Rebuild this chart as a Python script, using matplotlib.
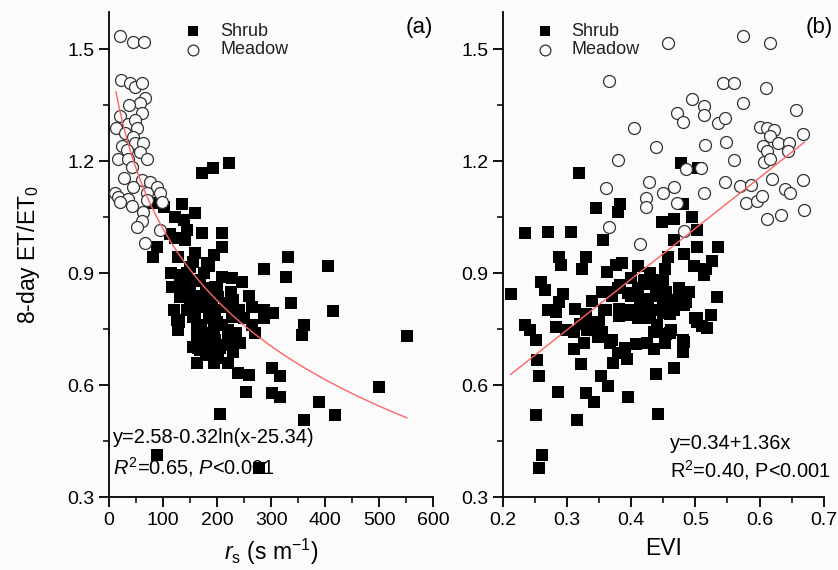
import numpy as np
import matplotlib
import matplotlib.pyplot as plt
from matplotlib.ticker import MultipleLocator

matplotlib.use('agg')

plt.rcParams['font.family'] = ['Liberation Sans', 'DejaVu Sans']
plt.rcParams['mathtext.fontset'] = 'custom'
plt.rcParams['mathtext.rm'] = 'Liberation Sans'
plt.rcParams['mathtext.it'] = 'Liberation Sans:italic'

### panel (a): surface resistance rs vs ET/ET0
meadow_rs = [20, 44, 65, 22, 39, 48, 61, 67, 57, 37, 20, 61, 35, 48, 13, 52, 30, 44, 24, 48,
             63, 33, 57, 17, 35, 70, 43, 28, 61, 76, 89, 11, 44, 17, 35, 70, 94, 20, 43, 70,
             98, 63, 61, 52, 94, 67]
meadow_et_a = [1.535, 1.52, 1.52, 1.417, 1.41, 1.40, 1.41, 1.37, 1.355, 1.35, 1.32, 1.33, 1.30,
               1.31, 1.29, 1.29, 1.275, 1.265, 1.24, 1.25, 1.25, 1.23, 1.225, 1.205, 1.205,
               1.205, 1.185, 1.155, 1.15, 1.145, 1.13, 1.115, 1.13, 1.105, 1.10, 1.115, 1.115,
               1.09, 1.08, 1.095, 1.09, 1.065, 1.04, 1.025, 1.015, 0.98]

shrub_rs = [172, 193, 222, 82, 101, 136, 159, 122, 138, 113, 144, 172, 209, 141, 122, 88, 209,
            82, 128, 159, 331, 406, 286, 181, 150, 328, 227, 246, 131, 116, 138, 169, 196, 131,
            162, 184, 230, 202, 336, 264, 286, 304, 415, 144, 169, 196, 218, 125, 156, 187, 227,
            286, 360, 128, 162, 206, 264, 270, 221, 357, 551, 162, 187, 156, 196, 218, 243, 169,
            187, 202, 221, 162, 239, 259, 301, 317, 500, 254, 301, 317, 389, 206, 360, 419, 88,
            278,
            140, 150, 160, 170, 180, 190, 150, 160, 175, 185, 200, 170, 180, 195, 210, 165, 175,
            190, 205, 220, 235, 145, 135, 120, 155, 175, 200, 215, 225, 130, 240, 180, 195, 230,
            250, 260, 210, 185, 195, 115]
shrub_et_a = [1.169, 1.183, 1.196, 1.087, 1.076, 1.085, 1.062, 1.051, 1.042, 1.006, 1.015, 1.008,
              1.008, 0.988, 0.993, 0.97, 0.97, 0.944, 0.944, 0.953, 0.942, 0.92, 0.911, 0.926,
              0.917, 0.890, 0.888, 0.875, 0.895, 0.863, 0.872, 0.881, 0.863, 0.837, 0.837, 0.846,
              0.828, 0.837, 0.820, 0.81, 0.80, 0.792, 0.799, 0.80, 0.81, 0.80, 0.81, 0.774, 0.783,
              0.779, 0.783, 0.779, 0.761, 0.747, 0.752, 0.761, 0.761, 0.740, 0.747, 0.734, 0.731,
              0.729, 0.738, 0.703, 0.721, 0.707, 0.712, 0.694, 0.689, 0.672, 0.658, 0.658, 0.633,
              0.626, 0.647, 0.624, 0.595, 0.582, 0.579, 0.569, 0.554, 0.522, 0.506, 0.52, 0.413,
              0.377,
              0.86, 0.85, 0.88, 0.84, 0.86, 0.83, 0.82, 0.79, 0.81, 0.78, 0.77, 0.76, 0.74, 0.75,
              0.76, 0.70, 0.72, 0.70, 0.70, 0.72, 0.74, 0.90, 0.84, 0.80, 0.93, 0.90, 0.86, 0.82,
              0.85, 0.77, 0.80, 0.68, 0.66, 0.69, 0.78, 0.84, 0.89, 0.92, 0.95, 0.90]

# log fit as drawn: y = a - b*ln(x - c)
fit_a = (2.684, 0.341, -32.0)
fit_a_range = (13, 551)

### panel (b): EVI vs ET/ET0
meadow_evi = [0.458, 0.574, 0.616, 0.366, 0.543, 0.560, 0.610, 0.494, 0.514, 0.472, 0.574, 0.657,
              0.481, 0.513, 0.536, 0.546, 0.404, 0.600, 0.612, 0.622, 0.616, 0.667, 0.438, 0.515,
              0.548, 0.605, 0.628, 0.646, 0.611, 0.645, 0.380, 0.560, 0.607, 0.617, 0.486, 0.509,
              0.361, 0.427, 0.466, 0.546, 0.570, 0.587, 0.619, 0.668, 0.450, 0.513, 0.640, 0.648,
              0.423, 0.423, 0.471, 0.579, 0.596, 0.604, 0.611, 0.634, 0.670, 0.366, 0.482, 0.414]
meadow_et_b = [1.518, 1.535, 1.518, 1.415, 1.41, 1.41, 1.395, 1.367, 1.349, 1.33, 1.355, 1.336,
               1.306, 1.324, 1.303, 1.316, 1.29, 1.292, 1.289, 1.283, 1.268, 1.274, 1.238, 1.243,
               1.252, 1.241, 1.248, 1.248, 1.227, 1.228, 1.203, 1.204, 1.197, 1.206, 1.18, 1.183,
               1.129, 1.143, 1.13, 1.143, 1.133, 1.136, 1.152, 1.149, 1.114, 1.115, 1.126, 1.115,
               1.102, 1.078, 1.087, 1.088, 1.093, 1.106, 1.045, 1.055, 1.069, 1.024, 1.013, 0.977]

shrub_evi = [0.318, 0.477, 0.504, 0.345, 0.383, 0.379, 0.480, 0.448, 0.467, 0.495, 0.502, 0.234,
             0.271, 0.307, 0.356, 0.466, 0.502, 0.535, 0.483, 0.458, 0.288, 0.290, 0.330, 0.324,
             0.362, 0.376, 0.386, 0.411, 0.452, 0.498, 0.516, 0.526, 0.212, 0.260, 0.266, 0.294,
             0.288, 0.339, 0.354, 0.362, 0.382, 0.400, 0.421, 0.436, 0.439, 0.454, 0.475, 0.490,
             0.395, 0.413, 0.426, 0.462, 0.485, 0.533, 0.513, 0.271, 0.283, 0.313, 0.358, 0.381,
             0.381, 0.400, 0.416, 0.434, 0.449, 0.467, 0.483, 0.503, 0.525, 0.502, 0.234, 0.242,
             0.252, 0.283, 0.298, 0.311, 0.321, 0.336, 0.344, 0.331, 0.354, 0.349, 0.367, 0.311,
             0.326, 0.408, 0.424, 0.436, 0.436, 0.454, 0.462, 0.452, 0.483, 0.480, 0.511, 0.518,
             0.254, 0.257, 0.322, 0.371, 0.393, 0.380, 0.353, 0.438, 0.466, 0.286, 0.329, 0.342,
             0.364, 0.395, 0.251, 0.316, 0.442, 0.261, 0.257,
             0.40, 0.41, 0.42, 0.43, 0.44, 0.42, 0.43, 0.41, 0.44, 0.45, 0.40, 0.42, 0.45, 0.39,
             0.46, 0.43, 0.44, 0.47, 0.48, 0.38, 0.37, 0.36, 0.35, 0.34, 0.33, 0.37, 0.39, 0.46,
             0.48, 0.50]
shrub_et_b = [1.169, 1.196, 1.183, 1.075, 1.086, 1.063, 1.085, 1.036, 1.045, 1.05, 1.015, 1.007,
              1.009, 1.009, 0.988, 0.99, 0.969, 0.970, 0.951, 0.944, 0.944, 0.921, 0.942, 0.910,
              0.904, 0.922, 0.928, 0.919, 0.910, 0.919, 0.910, 0.933, 0.844, 0.875, 0.855, 0.843,
              0.823, 0.826, 0.850, 0.850, 0.868, 0.886, 0.883, 0.883, 0.859, 0.850, 0.859, 0.850,
              0.846, 0.828, 0.832, 0.828, 0.823, 0.835, 0.895, 0.801, 0.796, 0.805, 0.801, 0.805,
              0.785, 0.787, 0.796, 0.801, 0.792, 0.801, 0.814, 0.781, 0.787, 0.770, 0.761, 0.747,
              0.721, 0.756, 0.747, 0.743, 0.765, 0.770, 0.756, 0.747, 0.743, 0.729, 0.712, 0.698,
              0.712, 0.709, 0.712, 0.743, 0.698, 0.738, 0.747, 0.712, 0.716, 0.689, 0.758, 0.752,
              0.667, 0.625, 0.656, 0.660, 0.669, 0.687, 0.625, 0.631, 0.647, 0.582, 0.578, 0.555,
              0.597, 0.569, 0.521, 0.506, 0.522, 0.412, 0.377,
              0.84, 0.86, 0.83, 0.87, 0.84, 0.80, 0.78, 0.78, 0.80, 0.82, 0.80, 0.88, 0.88, 0.79,
              0.79, 0.90, 0.76, 0.82, 0.85, 0.86, 0.84, 0.80, 0.77, 0.75, 0.79, 0.72, 0.70, 0.74,
              0.72, 0.78]

# linear fit: y = a + b*x
fit_b = (0.34, 1.36)
fit_b_range = (0.212, 0.670)

bg = '#fbfbfb'
fig = plt.figure(figsize=(8.38, 5.70), dpi=100, facecolor=bg)
ax1 = fig.add_axes([0.130, 0.128, 0.387, 0.851], facecolor=bg)
ax2 = fig.add_axes([0.600, 0.128, 0.383, 0.851], facecolor=bg)

sq = dict(marker='s', s=66, c='black', linewidths=0, zorder=3)
ci = dict(marker='o', s=74, facecolors=bg, edgecolors='#333333', linewidths=0.9, zorder=4)

ax1.scatter(shrub_rs, shrub_et_a, label='Shrub', **sq)
ax1.scatter(meadow_rs, meadow_et_a, label='Meadow', **ci)
xa = np.linspace(fit_a_range[0], fit_a_range[1], 200)
ax1.plot(xa, fit_a[0] - fit_a[1] * np.log(xa - fit_a[2]), color='#ff6464', lw=1.0, zorder=5)

ax2.scatter(shrub_evi, shrub_et_b, label='Shrub', **sq)
ax2.scatter(meadow_evi, meadow_et_b, label='Meadow', **ci)
xb = np.array(fit_b_range)
ax2.plot(xb, fit_b[0] + fit_b[1] * xb, color='#ff6464', lw=1.0, zorder=5)

for ax in (ax1, ax2):
    ax.set_ylim(0.3, 1.6)
    ax.yaxis.set_major_locator(MultipleLocator(0.3))
    ax.yaxis.set_minor_locator(MultipleLocator(0.15))
    for s in ('top', 'right'):
        ax.spines[s].set_visible(False)
    for s in ('left', 'bottom'):
        ax.spines[s].set_linewidth(1.3)
    ax.tick_params(which='major', direction='out', length=7, width=1.3, labelsize=14, pad=3.5)
    ax.tick_params(which='minor', direction='out', length=4, width=1.1)
    ax.legend(loc='upper left', frameon=False, fontsize=13, handletextpad=0.5,
              labelspacing=0.08, borderaxespad=0.2, markerscale=0.9, labelcolor='#222222')

ax1.set_xlim(0, 600)
ax1.xaxis.set_major_locator(MultipleLocator(100))
ax1.xaxis.set_minor_locator(MultipleLocator(50))
ax2.set_xlim(0.2, 0.7)
ax2.xaxis.set_major_locator(MultipleLocator(0.1))
ax2.xaxis.set_minor_locator(MultipleLocator(0.05))
ax2.set_xticklabels(['%.1f' % v for v in ax2.get_xticks()])
ax1.set_yticklabels(['%.1f' % v for v in ax1.get_yticks()])
ax2.set_yticklabels(['%.1f' % v for v in ax2.get_yticks()])

ax1.get_legend().set_bbox_to_anchor((0.17, 1.0))
ax2.get_legend().set_bbox_to_anchor((0.04, 1.0))

ax1.set_xlabel(r'$r_\mathrm{s}$ (s m$^{-1}$)', fontsize=16.5, labelpad=6)
ax2.set_xlabel('EVI', fontsize=16.5, labelpad=6)
ax1.set_ylabel(r'8-day ET/ET$_0$', fontsize=16.5, labelpad=18)

ax1.text(0.914, 0.967, '(a)', transform=ax1.transAxes, fontsize=16, va='center', ha='left')
ax2.text(0.945, 0.967, '(b)', transform=ax2.transAxes, fontsize=16, va='center', ha='left')

ax1.text(0.011, 0.122, 'y=2.58-0.32ln(x-25.34)', transform=ax1.transAxes, fontsize=14.4,
         va='center')
ax1.text(0.011, 0.062, r'$R^2$=0.65, $P$<0.001', transform=ax1.transAxes, fontsize=14.4,
         va='center')
ax2.text(0.52, 0.111, 'y=0.34+1.36x', transform=ax2.transAxes, fontsize=14.4, va='center')
ax2.text(0.52, 0.056, r'R$^2$=0.40, P<0.001', transform=ax2.transAxes, fontsize=14.4,
         va='center')

plt.savefig('out.png', facecolor=bg, dpi=100)
